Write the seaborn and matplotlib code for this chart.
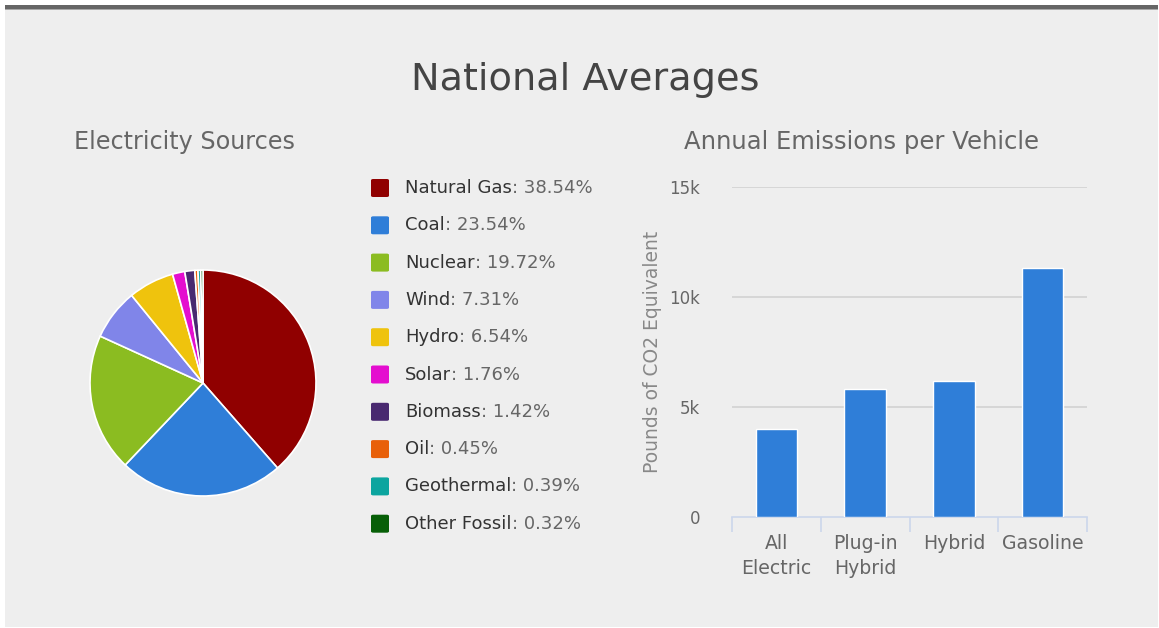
import matplotlib
matplotlib.use("Agg")
import matplotlib.pyplot as plt
import seaborn as sns
import pandas as pd
from matplotlib.patches import Rectangle, FancyBboxPatch

# ---------------- data ----------------
sources = ["Natural Gas", "Coal", "Nuclear", "Wind", "Hydro", "Solar",
           "Biomass", "Oil", "Geothermal", "Other Fossil"]
shares = [38.54, 23.54, 19.72, 7.31, 6.54, 1.76, 1.42, 0.45, 0.39, 0.32]
source_colors = ["#900000", "#2f7ed8", "#8bbc21", "#8085e9", "#efc30d",
                 "#e40dcf", "#492970", "#e8600a", "#0ca59f", "#075f07"]

vehicles = ["All\nElectric", "Plug-in\nHybrid", "Hybrid", "Gasoline"]
emissions = [4000, 5840, 6200, 11340]
y_ticks = [0, 5000, 10000, 15000]
y_tick_labels = ["0", "5k", "10k", "15k"]

W, H = 1159, 628
sns.set_theme(style="white")
plt.rcParams["font.family"] = ["DejaVu Sans"]

fig = plt.figure(figsize=(W / 100, H / 100), dpi=100)
fig.patch.set_facecolor("white")

def fx(x):
    return x / W

def fy(y):
    return 1 - y / H

# panel background and top bar
fig.patches.append(Rectangle((fx(5), fy(627)), fx(1153), (622) / H,
                             transform=fig.transFigure, facecolor="#eeeeee",
                             edgecolor="none", zorder=-10))
fig.patches.append(Rectangle((fx(5), fy(9)), fx(1153), 4 / H,
                             transform=fig.transFigure, facecolor="#666666",
                             edgecolor="none", zorder=-9))
fig.patches.append(Rectangle((fx(5), fy(10)), fx(1153), 1 / H,
                             transform=fig.transFigure, facecolor="#a8a8a8",
                             edgecolor="none", zorder=-9))

# titles
fig.text(fx(585), fy(80), "National Averages", ha="center", va="center",
         fontsize=27.5, color="#444444")
fig.text(fx(184.5), fy(142), "Electricity Sources", ha="center", va="center",
         fontsize=17.2, color="#666666")
fig.text(fx(861), fy(142), "Annual Emissions per Vehicle", ha="center",
         va="center", fontsize=17.5, color="#666666")

# ---------------- pie ----------------
cx, cy, r = 203, 383, 113
ax_pie = fig.add_axes([fx(cx - r), fy(cy + r), 2 * r / W, 2 * r / H])
ax_pie.set_zorder(5)
ax_pie.pie(shares, colors=source_colors, startangle=90, counterclock=False,
           wedgeprops=dict(edgecolor="white", linewidth=1.2))
ax_pie.set_xlim(-1, 1)
ax_pie.set_ylim(-1, 1)
ax_pie.set_aspect("auto")
ax_pie.axis("off")

# ---------------- legend ----------------
renderer = fig.canvas.get_renderer()
row0, step = 188, 37.3
for i, (name, val, col) in enumerate(zip(sources, shares, source_colors)):
    yy = row0 + i * step
    fig.patches.append(FancyBboxPatch((fx(371), fy(yy + 9)), 18 / W, 18 / H,
                                      boxstyle="round,pad=0,rounding_size=0.002",
                                      transform=fig.transFigure,
                                      facecolor=col, edgecolor="none", zorder=2))
    t = fig.text(fx(405), fy(yy), name, ha="left", va="center",
                 fontsize=13, color="#333333")
    bb = t.get_window_extent(renderer=renderer)
    fig.text(bb.x1 / W, fy(yy), f": {val:.2f}%", ha="left", va="center",
             fontsize=13, color="#666666")

# ---------------- bars ----------------
ax_bar = fig.add_axes([fx(732), fy(517), (1087 - 732) / W, (517 - 187) / H])
ax_bar.set_zorder(5)
ax_bar.set_facecolor("none")
df = pd.DataFrame({"vehicle": vehicles, "emissions": emissions})
sns.barplot(data=df, x="vehicle", y="emissions", color="#2f7ed8",
            saturation=1, width=0.47, edgecolor="white", linewidth=1,
            ax=ax_bar, zorder=3)
ax_bar.set_ylim(0, 15000)
ax_bar.set_xlim(-0.5, len(vehicles) - 0.5)
ax_bar.set_yticks(y_ticks)
ax_bar.set_yticklabels(y_tick_labels, color="#666666", fontsize=12)
for yv in y_ticks[1:]:
    ax_bar.axhline(yv, color="#d2d2d2", linewidth=1.2, zorder=1)
ax_bar.tick_params(axis="y", left=False, length=0, pad=23)
ax_bar.set_xticks(range(len(vehicles)))
ax_bar.set_xticklabels(vehicles, color="#666666", fontsize=13.6, linespacing=1.4)
ax_bar.tick_params(axis="x", which="major", bottom=False, length=0, pad=12)
ax_bar.set_xticks([i - 0.5 for i in range(len(vehicles) + 1)], minor=True)
ax_bar.tick_params(axis="x", which="minor", bottom=True, length=11, width=1.2,
                   color="#ccd6eb", direction="out")
for s in ["top", "right", "left"]:
    ax_bar.spines[s].set_visible(False)
ax_bar.spines["bottom"].set_color("#ccd6eb")
ax_bar.spines["bottom"].set_linewidth(1.2)
ax_bar.set_xlabel("")
ax_bar.set_ylabel("Pounds of CO2 Equivalent", color="#888888", fontsize=13.5,
                  labelpad=5)

fig.savefig("out.png", dpi=100, facecolor="white")
